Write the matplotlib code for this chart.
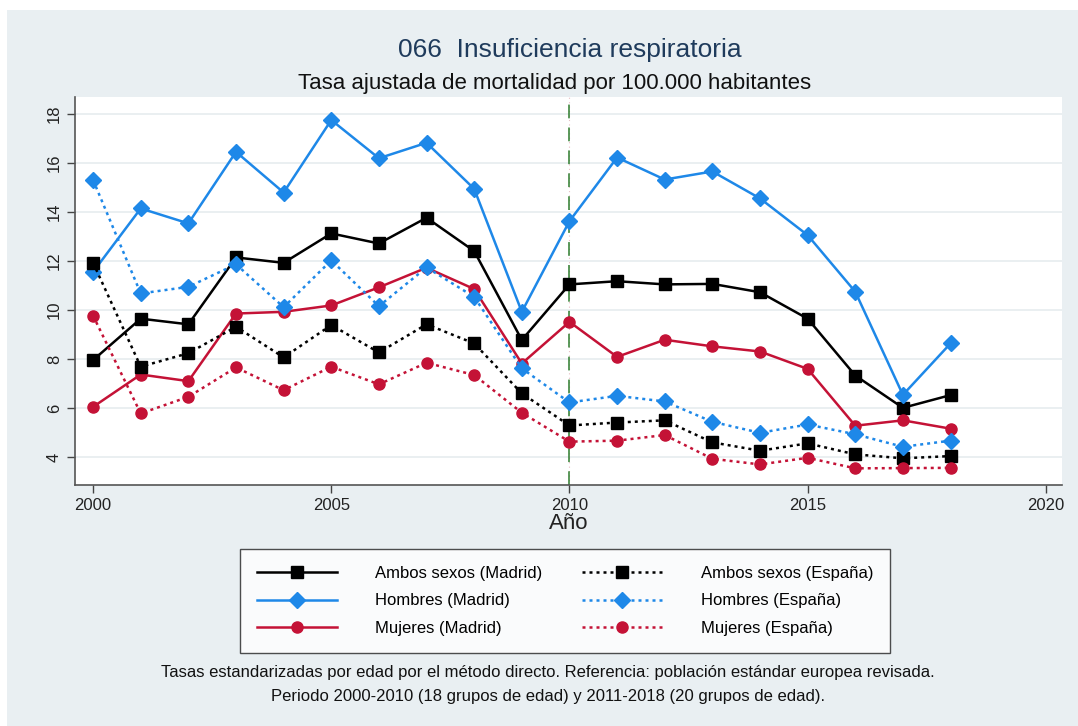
import matplotlib
matplotlib.use("Agg")
import matplotlib.pyplot as plt
from matplotlib.patches import Rectangle

plt.rcParams["font.family"] = ["Liberation Sans", "DejaVu Sans"]

years = list(range(2000, 2019))

ambos_madrid = [7.96, 9.65, 9.42, 12.15, 11.93, 13.13, 12.72, 13.77, 12.41, 8.78,
                11.05, 11.18, 11.05, 11.07, 10.73, 9.65, 7.33, 6.01, 6.53]
hombres_madrid = [11.56, 14.15, 13.54, 16.46, 14.80, 17.76, 16.20, 16.83, 14.95, 9.93,
                  13.63, 16.23, 15.33, 15.66, 14.56, 13.06, 10.75, 6.54, 8.64]
mujeres_madrid = [6.05, 7.37, 7.10, 9.86, 9.93, 10.19, 10.93, 11.73, 10.86, 7.82,
                  9.52, 8.09, 8.79, 8.52, 8.31, 7.60, 5.28, 5.50, 5.16]
ambos_espana = [11.93, 7.69, 8.24, 9.32, 8.07, 9.39, 8.27, 9.42, 8.64, 6.60,
                5.29, 5.41, 5.50, 4.60, 4.26, 4.56, 4.11, 3.95, 4.04]
hombres_espana = [15.31, 10.68, 10.95, 11.87, 10.12, 12.03, 10.16, 11.74, 10.54, 7.62,
                  6.23, 6.50, 6.27, 5.44, 4.99, 5.33, 4.93, 4.42, 4.67]
mujeres_espana = [9.77, 5.78, 6.46, 7.66, 6.73, 7.69, 6.97, 7.85, 7.35, 5.81,
                  4.63, 4.67, 4.90, 3.93, 3.70, 3.97, 3.54, 3.55, 3.56]

labels = ["Ambos sexos (Madrid)", "Hombres (Madrid)", "Mujeres (Madrid)",
          "Ambos sexos (España)", "Hombres (España)", "Mujeres (España)"]

BLACK = "#000000"
BLUE = "#1E88E8"
RED = "#C41236"
BG = "#E9EFF2"
DOT = (0, (1.2, 1.6))

series = [
    # (values, color, marker, linestyle) -- Madrid first, then España (legend order)
    (ambos_madrid, BLACK, "s", "-"),
    (hombres_madrid, BLUE, "D", "-"),
    (mujeres_madrid, RED, "o", "-"),
    (ambos_espana, BLACK, "s", DOT),
    (hombres_espana, BLUE, "D", DOT),
    (mujeres_espana, RED, "o", DOT),
]

fig = plt.figure(figsize=(10.78, 7.26), dpi=100, facecolor="white")
fig.patches.append(Rectangle((7 / 1078, 0), 1, 1 - 10 / 726, transform=fig.transFigure,
                             facecolor=BG, edgecolor="none", zorder=-10))

ax = fig.add_axes([75 / 1078, 1 - 485 / 726, (1062 - 75) / 1078, (485 - 97) / 726])
ax.set_facecolor("white")

for y in range(4, 19, 2):
    ax.axhline(y, color="#E6ECEF", lw=1.2, zorder=0)

# vertical reference line at 2010
ax.axvline(2010, color="#E7BFC4", lw=0.8, ls=(0, (1, 3)), zorder=1)
ax.axvline(2010, color="#2E7D2E", lw=1.1, ls=(0, (9, 6)), zorder=1)

handles = []
for (vals, col, mk, ls), lab in zip(series, labels):
    h, = ax.plot(years, vals, color=col, lw=1.8, ls=ls, marker=mk, ms=8,
                 markerfacecolor=col, markeredgecolor=col, zorder=3, label=lab)
    handles.append(h)

ax.set_xlim(1999.62, 2020.34)
ax.set_ylim(2.86, 18.7)
ax.set_xticks([2000, 2005, 2010, 2015, 2020])
ax.set_yticks(range(4, 19, 2))
ax.tick_params(axis="both", direction="out", length=6, width=1, color="#444444",
               labelsize=12, labelcolor="#222222")
ax.tick_params(axis="y", labelrotation=90)
for lab in ax.get_yticklabels():
    lab.set_va("center")
for s in ["top", "right"]:
    ax.spines[s].set_visible(False)
for s in ["left", "bottom"]:
    ax.spines[s].set_color("#555555")
    ax.spines[s].set_linewidth(1.2)

ax.set_xlabel("Año", fontsize=16, color="#222222", labelpad=0)

fig.text(570 / 1078, 1 - 50 / 726, "066  Insuficiencia respiratoria", ha="center",
         va="center", fontsize=19, color="#1F3B5C")
fig.text(555 / 1078, 1 - 84 / 726, "Tasa ajustada de mortalidad por 100.000 habitantes",
         ha="center", va="center", fontsize=16, color="#111111")

leg = fig.legend(handles=handles, loc="center", bbox_to_anchor=(565 / 1078, 1 - 601 / 726),
                 ncol=2, frameon=True, fancybox=False, edgecolor="#222222",
                 facecolor="white", fontsize=12, handlelength=4.8, columnspacing=2.4,
                 handletextpad=2.3, borderpad=1.0, labelspacing=0.75)
leg.get_frame().set_linewidth(1.0)

fig.text(548 / 1078, 1 - 673 / 726,
         "Tasas estandarizadas por edad por el método directo. Referencia: población estándar europea revisada.",
         ha="center", va="center", fontsize=12, color="#111111")
fig.text(548 / 1078, 1 - 697 / 726,
         "Periodo 2000-2010 (18 grupos de edad) y 2011-2018 (20 grupos de edad).",
         ha="center", va="center", fontsize=12, color="#111111")

fig.savefig("out.png", dpi=100, facecolor=fig.get_facecolor())
